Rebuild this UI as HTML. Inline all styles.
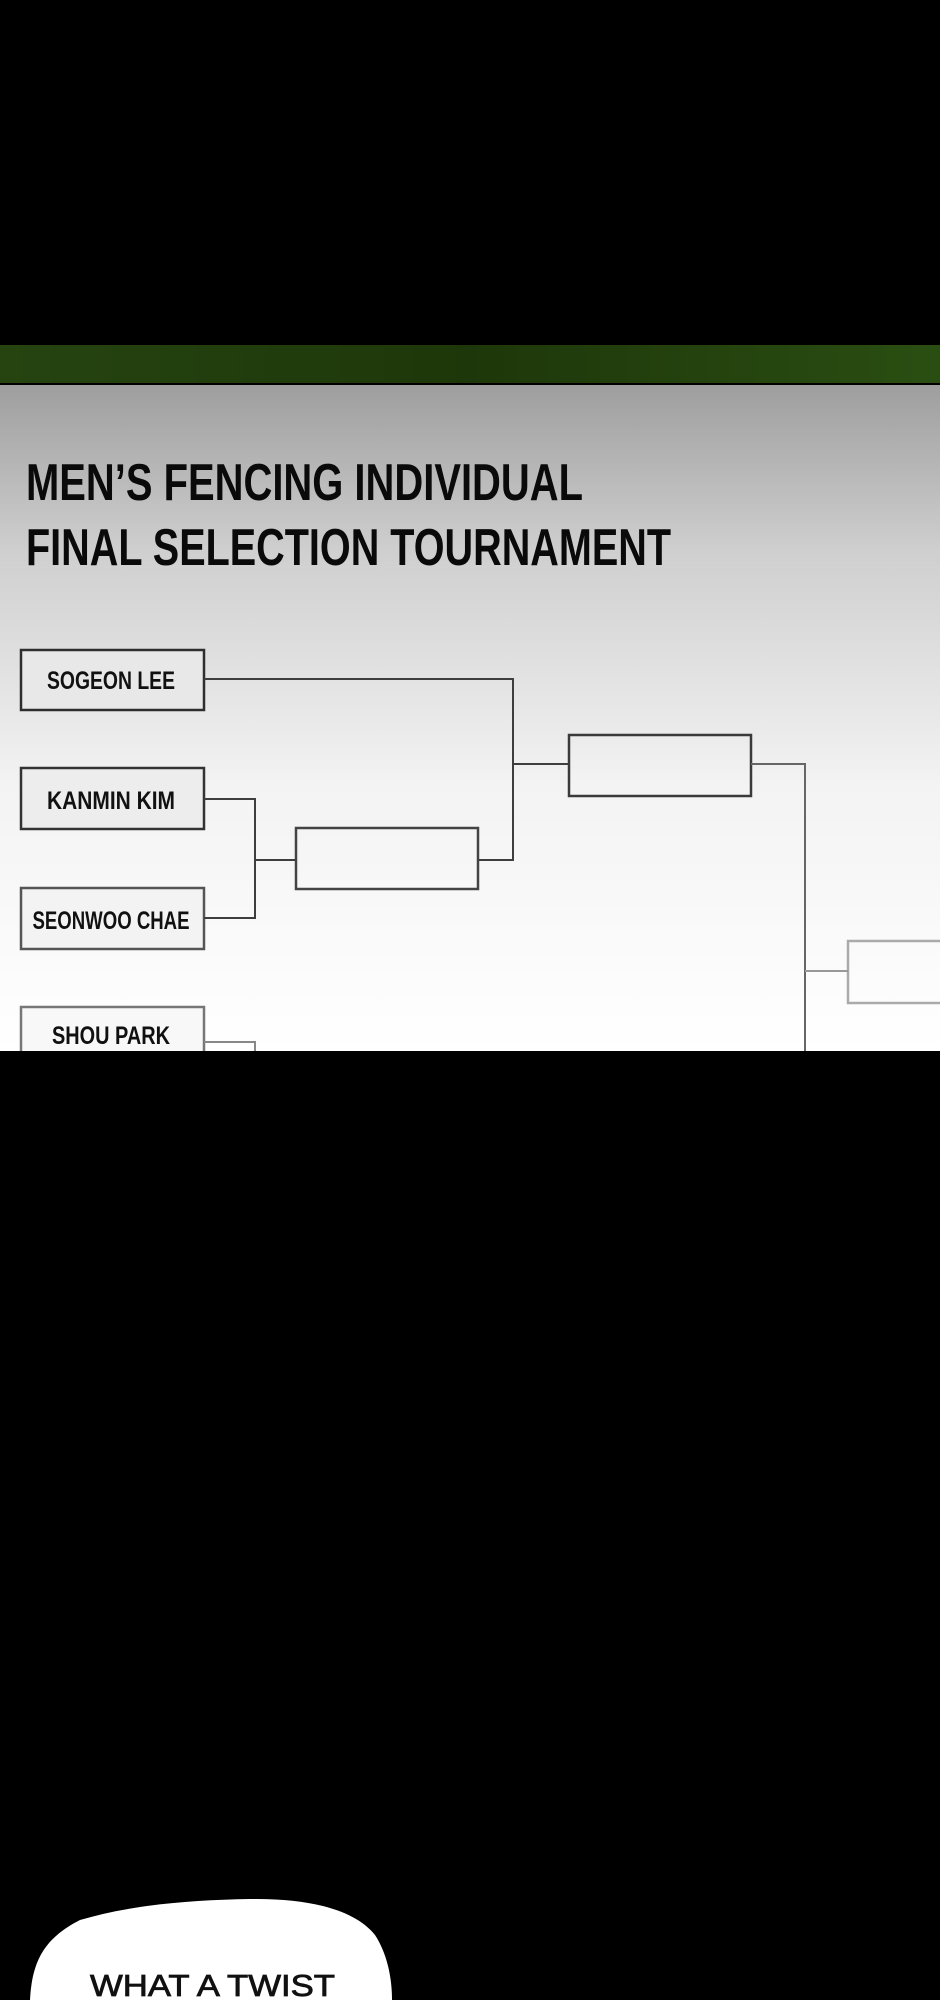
<!DOCTYPE html>
<html><head><meta charset="utf-8"><style>
html,body{margin:0;padding:0;background:#000;}
body{width:940px;height:2000px;position:relative;overflow:hidden;}
svg{position:absolute;left:0;top:0;}
</style></head><body>
<svg width="940" height="2000" viewBox="0 0 940 2000" xmlns="http://www.w3.org/2000/svg">
<defs>
<linearGradient id="g" x1="0" y1="0" x2="0" y2="1">
<stop offset="0" stop-color="#9e9e9e"/>
<stop offset="0.25" stop-color="#cfcfcf"/>
<stop offset="0.6" stop-color="#f3f3f3"/>
<stop offset="1" stop-color="#ffffff"/>
</linearGradient>
<linearGradient id="gr" x1="0" y1="0" x2="1" y2="0">
<stop offset="0" stop-color="#254410"/>
<stop offset="0.5" stop-color="#1e370a"/>
<stop offset="1" stop-color="#2a4e12"/>
</linearGradient>
</defs>
<rect x="0" y="0" width="940" height="2000" fill="#000"/>
<rect x="0" y="345" width="940" height="38" fill="url(#gr)"/>
<rect x="0" y="385" width="940" height="666" fill="url(#g)"/>
<g font-family="Liberation Sans, sans-serif" font-weight="bold" fill="#0a0a0a">
<text x="26" y="500" font-size="52" textLength="557" lengthAdjust="spacingAndGlyphs">MEN’S FENCING INDIVIDUAL</text>
<text x="26" y="565" font-size="52" textLength="645" lengthAdjust="spacingAndGlyphs">FINAL SELECTION TOURNAMENT</text>
</g>
<g fill="none" stroke-width="2.5">
<rect x="21" y="650" width="183" height="60" stroke="#2e2e2e" fill="#e8e8e8"/>
<rect x="21" y="768" width="183" height="61" stroke="#333" fill="#ededed"/>
<rect x="21" y="888" width="183" height="61" stroke="#555" fill="#f3f3f3"/>
<rect x="21" y="1007" width="183" height="60" stroke="#777" fill="#f8f8f8"/>
<rect x="296" y="828" width="182" height="61" stroke="#444"/>
<rect x="569" y="735" width="182" height="61" stroke="#3a3a3a"/>
<rect x="848" y="941" width="100" height="62" stroke="#aaa"/>
<g stroke="#3e3e3e" stroke-width="2">
<polyline points="204,679 513,679 513,860 478,860"/>
<line x1="513" y1="764" x2="569" y2="764"/>
<polyline points="204,799 255,799 255,918 204,918"/>
<line x1="255" y1="860" x2="296" y2="860"/>
<polyline points="751,764 805,764 805,1051" stroke="#666"/>
<line x1="805" y1="971" x2="848" y2="971" stroke="#999"/>
<polyline points="204,1042 255,1042 255,1051" stroke="#888"/>
</g>
</g>
<g font-family="Liberation Sans, sans-serif" font-weight="bold" fill="#111" text-anchor="middle" font-size="25">
<text x="111" y="689" textLength="128" lengthAdjust="spacingAndGlyphs">SOGEON LEE</text>
<text x="111" y="809" textLength="128" lengthAdjust="spacingAndGlyphs">KANMIN KIM</text>
<text x="111" y="929" textLength="157" lengthAdjust="spacingAndGlyphs">SEONWOO CHAE</text>
<text x="111" y="1044" textLength="118" lengthAdjust="spacingAndGlyphs">SHOU PARK</text>
</g>
<rect x="0" y="1051" width="940" height="949" fill="#000"/>
<path d="M30,2000 C32,1960 45,1938 80,1920 C130,1905 190,1900 250,1899 C310,1898 355,1910 375,1935 C388,1955 392,1980 392,2000 Z" fill="#fff"/>
<text x="90" y="1996" font-family="Liberation Sans, sans-serif" font-size="31" fill="#111" stroke="#111" stroke-width="0.8" textLength="245" lengthAdjust="spacingAndGlyphs">WHAT A TWIST</text>
</svg>
</body></html>
